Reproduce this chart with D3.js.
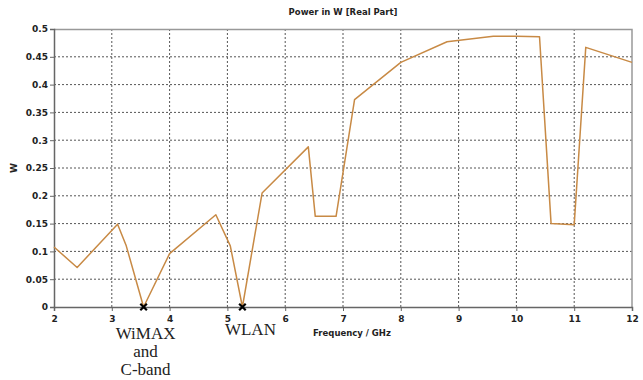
<!DOCTYPE html>
<html>
<head>
<meta charset="utf-8">
<script src="https://cdn.jsdelivr.net/npm/d3@7"></script>
<style>
  body { margin: 0; background: #fff; }
  .axis text { font-family: "DejaVu Sans", sans-serif; font-weight: bold; font-size: 9px; fill: #222; }
</style>
</head>
<body>
<script>
// power (real part) vs frequency
let freqGHz = [2, 2.4, 3.1, 3.25, 3.55, 4.0, 4.8, 5.05, 5.26, 5.6, 6.4, 6.52, 6.88, 7.2, 8.0, 8.8, 9.6, 10.0, 10.4, 10.6, 11.0, 11.2, 12];
let powerW = [0.108, 0.071, 0.149, 0.11, 0, 0.096, 0.166, 0.11, 0, 0.205, 0.288, 0.163, 0.163, 0.373, 0.44, 0.477, 0.487, 0.487, 0.486, 0.15, 0.148, 0.467, 0.44];
let xTicks = [2, 3, 4, 5, 6, 7, 8, 9, 10, 11, 12];
let yTicks = [0, 0.05, 0.1, 0.15, 0.2, 0.25, 0.3, 0.35, 0.4, 0.45, 0.5];
let markFreq = [3.55, 5.26];
let bandLabels = [
  { f: 3.55, dx: 2, top: 32, lines: ["WiMAX", "and", "C-band"] },
  { f: 5.26, dx: 8, top: 28, lines: ["WLAN"] }
];

let SvgWidth = 643;
let SvgHeight = 380;
let Margin = { Top: 29, Right: 11, Bottom: 73, Left: 54 };
let ChartWidth = SvgWidth - Margin.Left - Margin.Right;
let ChartHeight = SvgHeight - Margin.Top - Margin.Bottom;

let Svg = d3.select("body").append("svg")
    .attr("width", SvgWidth)
    .attr("height", SvgHeight);

let ChartGroup = Svg.append("g")
    .attr("transform", `translate(${Margin.Left},${Margin.Top})`);

let xScale = d3.scaleLinear().domain([2, 12]).range([0, ChartWidth]);
let yScale = d3.scaleLinear().domain([0, 0.5]).range([ChartHeight, 0]);

// grid
ChartGroup.selectAll(".vgrid")
    .data(xTicks.slice(1, -1))
    .enter().append("line")
    .attr("x1", d => xScale(d)).attr("x2", d => xScale(d))
    .attr("y1", 0).attr("y2", ChartHeight)
    .attr("stroke", "#555").attr("stroke-width", 1)
    .attr("stroke-dasharray", "2,2");

ChartGroup.selectAll(".hgrid")
    .data(yTicks.slice(1, -1))
    .enter().append("line")
    .attr("x1", 0).attr("x2", ChartWidth)
    .attr("y1", d => yScale(d)).attr("y2", d => yScale(d))
    .attr("stroke", "#555").attr("stroke-width", 1)
    .attr("stroke-dasharray", "2,2");

// frame top / right
ChartGroup.append("path")
    .attr("d", `M0,0.5H${ChartWidth}V${ChartHeight}`)
    .attr("fill", "none").attr("stroke", "#999").attr("stroke-width", 1.5);

// axes
let BottomAxis = d3.axisBottom(xScale).tickValues(xTicks).tickSize(4).tickFormat(d3.format("d"));
let LeftAxis = d3.axisLeft(yScale).tickValues(yTicks).tickSize(4).tickFormat(d => d === 0 ? "0" : String(d));

let xAxisG = ChartGroup.append("g")
    .classed("axis", true)
    .attr("transform", `translate(0,${ChartHeight})`)
    .call(BottomAxis);

let yAxisG = ChartGroup.append("g")
    .classed("axis", true)
    .call(LeftAxis);

[xAxisG, yAxisG].forEach(g => {
    g.select(".domain").attr("stroke", "#666").attr("stroke-width", 1.5);
    g.selectAll(".tick line").attr("stroke", "#666");
});
xAxisG.selectAll("text").attr("dy", "0.9em");
yAxisG.selectAll("text").attr("x", -6);

// series
ChartGroup.append("path")
    .datum(freqGHz.map((f, i) => [f, powerW[i]]))
    .attr("fill", "none")
    .attr("stroke", "#c88a45")
    .attr("stroke-width", 1.5)
    .attr("stroke-linejoin", "round")
    .attr("d", d3.line().x(d => xScale(d[0])).y(d => yScale(d[1])));

// band markers
ChartGroup.selectAll(".mark")
    .data(markFreq)
    .enter().append("path")
    .attr("d", d3.symbol(d3.symbolX, 30))
    .attr("transform", d => `translate(${xScale(d)},${yScale(0)})`)
    .attr("stroke", "#000").attr("stroke-width", 2.2);

// band labels
bandLabels.forEach(b => {
    b.lines.forEach((t, i) => {
        ChartGroup.append("text")
            .attr("x", xScale(b.f) + b.dx)
            .attr("y", ChartHeight + b.top + i * 18)
            .attr("text-anchor", "middle")
            .attr("font-family", "Liberation Serif, serif")
            .attr("font-size", "17px")
            .attr("fill", "#222")
            .text(t);
    });
});

// title and axis labels
Svg.append("text")
    .attr("x", Margin.Left + ChartWidth / 2)
    .attr("y", 15)
    .attr("text-anchor", "middle")
    .attr("font-family", "DejaVu Sans, sans-serif")
    .attr("font-weight", "bold")
    .attr("font-size", "8.5px")
    .attr("fill", "#222")
    .text("Power in W [Real Part]");

Svg.append("text")
    .attr("x", 352)
    .attr("y", 336)
    .attr("text-anchor", "middle")
    .attr("font-family", "DejaVu Sans, sans-serif")
    .attr("font-weight", "bold")
    .attr("font-size", "8.5px")
    .attr("fill", "#222")
    .text("Frequency / GHz");

Svg.append("text")
    .attr("transform", `translate(17,${Margin.Top + yScale(0.25)}) rotate(-90)`)
    .attr("text-anchor", "middle")
    .attr("font-family", "DejaVu Sans, sans-serif")
    .attr("font-weight", "bold")
    .attr("font-size", "9px")
    .attr("fill", "#222")
    .text("W");
</script>
</body>
</html>
